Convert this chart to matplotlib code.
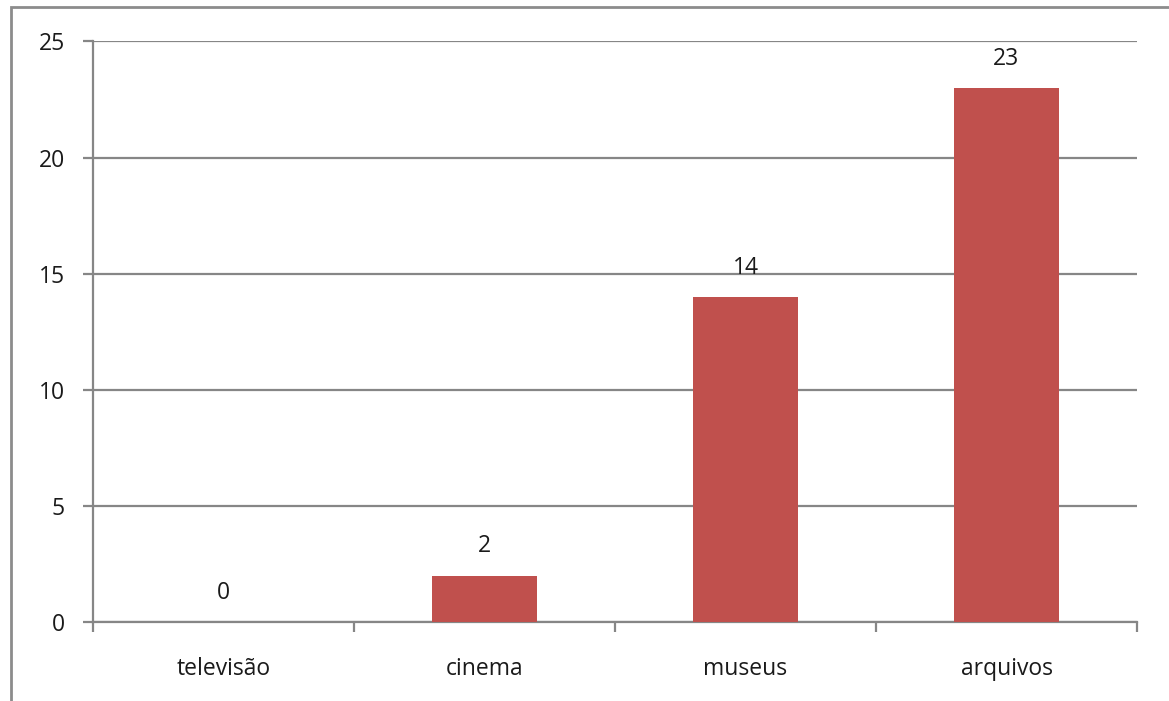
import matplotlib.pyplot as plt
from matplotlib.patches import Rectangle

categorias = ["televisão", "cinema", "museus", "arquivos"]
valores = [0, 2, 14, 23]
yticks = [0, 5, 10, 15, 20, 25]

plt.rcParams['font.family'] = ['Open Sans', 'DejaVu Sans']

fig = plt.figure(figsize=(11.69, 7.01), dpi=100)
ax = fig.add_axes([93/1169, 1 - 622/701, (1137 - 93)/1169, (622 - 41.5)/701])

# moldura cinza do gráfico (só esquerda e topo aparecem)
fig.patches.append(Rectangle((11/1169, -0.1), 1.2, 1 - 7/701 + 0.1, transform=fig.transFigure,
                             fill=False, edgecolor='#8c8c8c', linewidth=2))

x = range(len(categorias))
ax.bar(x, valores, width=0.4, color='#C0504D', zorder=3)
for xi, v in zip(x, valores):
    ax.text(xi, v + 0.75, str(v), ha='center', va='bottom', fontsize=16.5, color='#1a1a1a')

ax.set_xlim(-0.5, len(categorias) - 0.5)
ax.set_ylim(0, 25)
ax.set_yticks(yticks)
ax.set_yticklabels([str(t) for t in yticks], fontsize=16.5, color='#1a1a1a')
ax.yaxis.grid(True, color='#868686', linewidth=1.6, zorder=0)
ax.tick_params(axis='y', length=7.2, width=1.6, color='#868686', pad=13)

ax.set_xticks(list(x))
ax.set_xticklabels(categorias, fontsize=16.5, color='#1a1a1a')
ax.tick_params(axis='x', which='major', length=0, pad=25)
ax.set_xticks([i - 0.5 for i in range(len(categorias) + 1)], minor=True)
ax.tick_params(axis='x', which='minor', length=7.2, width=1.6, color='#868686')

for s in ['top', 'right']:
    ax.spines[s].set_visible(False)
for s in ['left', 'bottom']:
    ax.spines[s].set_color('#868686')
    ax.spines[s].set_linewidth(1.6)

fig.savefig('out.png', dpi=100)
